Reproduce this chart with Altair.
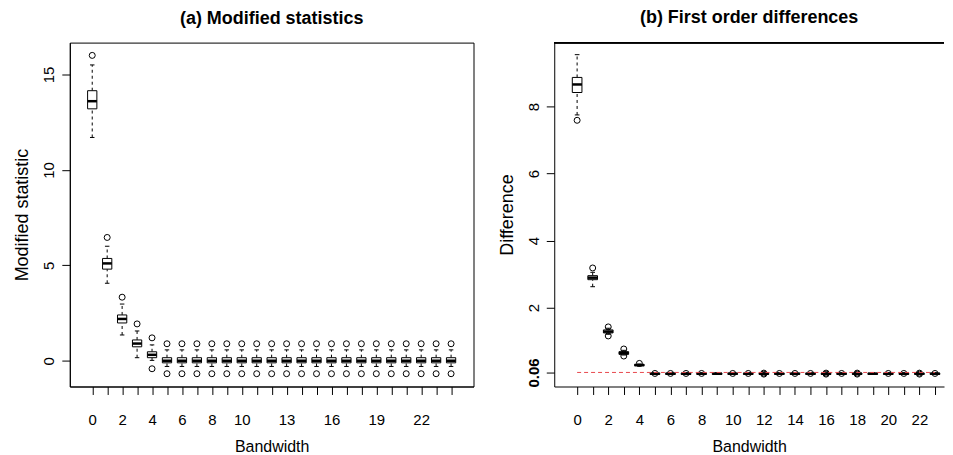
import altair as alt
import pandas as pd

FONT = "Liberation Sans"

# ---------------- Panel (a): Modified statistics ----------------
a_bw = list(range(25))
a_wlo = [11.7, 4.06, 1.35, 0.16, 0.02,
         -0.3, -0.3, -0.3, -0.3, -0.3, -0.3, -0.3, -0.3, -0.3, -0.3,
         -0.3, -0.3, -0.3, -0.3, -0.3, -0.3, -0.3, -0.3, -0.3, -0.3]
a_q1 = [13.2, 4.8, 1.98, 0.73, 0.16,
        -0.11, -0.11, -0.11, -0.11, -0.11, -0.11, -0.11, -0.11, -0.11, -0.11,
        -0.11, -0.11, -0.11, -0.11, -0.11, -0.11, -0.11, -0.11, -0.11, -0.11]
a_med = [13.6, 5.1, 2.19, 0.9, 0.31,
         0.0, 0.0, 0.0, 0.0, 0.0, 0.0, 0.0, 0.0, 0.0, 0.0,
         0.0, 0.0, 0.0, 0.0, 0.0, 0.0, 0.0, 0.0, 0.0, 0.0]
a_q3 = [14.15, 5.36, 2.4, 1.09, 0.47,
        0.16, 0.16, 0.16, 0.16, 0.16, 0.16, 0.16, 0.16, 0.16, 0.16,
        0.16, 0.16, 0.16, 0.16, 0.16, 0.16, 0.16, 0.16, 0.16, 0.16]
a_whi = [15.5, 6.0, 2.97, 1.56, 0.83,
         0.57, 0.57, 0.57, 0.57, 0.57, 0.57, 0.57, 0.57, 0.57, 0.57,
         0.57, 0.57, 0.57, 0.57, 0.57, 0.57, 0.57, 0.57, 0.57, 0.57]
a_out_hi = [16.0, 6.46, 3.33, 1.93, 1.2,
            0.89, 0.89, 0.89, 0.89, 0.89, 0.89, 0.89, 0.89, 0.89, 0.89,
            0.89, 0.89, 0.89, 0.89, 0.89, 0.89, 0.89, 0.89, 0.89, 0.89]
a_out_lo = [None, None, None, None, -0.42,
            -0.68, -0.68, -0.68, -0.68, -0.68, -0.68, -0.68, -0.68, -0.68, -0.68,
            -0.68, -0.68, -0.68, -0.68, -0.68, -0.68, -0.68, -0.68, -0.68, -0.68]
a_xlabels = [0, 2, 4, 6, 8, 10, 13, 16, 19, 22]
a_yticks = [0, 5, 10, 15]

# ---------------- Panel (b): First order differences ----------------
b_bw = list(range(24))
b_wlo = [7.75, 2.62, 1.2, 0.58, 0.25,
         0.0, 0.0, 0.0, 0.0, 0.0, 0.0, 0.0, 0.0, 0.0, 0.0,
         0.0, 0.0, 0.0, 0.0, 0.0, 0.0, 0.0, 0.0, 0.0]
b_q1 = [8.42, 2.83, 1.24, 0.6, 0.26,
        0.0, 0.0, 0.0, 0.0, 0.0, 0.0, 0.0, 0.0, 0.0, 0.0,
        0.0, 0.0, 0.0, 0.0, 0.0, 0.0, 0.0, 0.0, 0.0]
b_med = [8.66, 2.89, 1.28, 0.64, 0.28,
         0.02, 0.02, 0.02, 0.02, 0.02, 0.02, 0.02, 0.02, 0.02, 0.02,
         0.02, 0.02, 0.02, 0.02, 0.02, 0.02, 0.02, 0.02, 0.02]
b_q3 = [8.87, 2.95, 1.33, 0.68, 0.3,
        0.04, 0.04, 0.04, 0.04, 0.04, 0.04, 0.04, 0.04, 0.04, 0.04,
        0.04, 0.04, 0.04, 0.04, 0.04, 0.04, 0.04, 0.04, 0.04]
b_whi = [9.55, 3.05, 1.38, 0.72, 0.31,
         0.05, 0.05, 0.05, 0.05, 0.05, 0.05, 0.05, 0.05, 0.05, 0.05,
         0.05, 0.05, 0.05, 0.05, 0.05, 0.05, 0.05, 0.05, 0.05]
b_out_hi = [None, 3.18, 1.42, 0.76, 0.33,
            0.03, 0.03, 0.03, 0.03, None, 0.03, 0.03, 0.04, 0.03, 0.03,
            0.03, 0.04, 0.03, 0.04, None, 0.03, 0.03, 0.04, 0.03]
b_out_lo = [7.59, None, 1.15, 0.55, None,
            None, None, None, None, None, None, None, 0.01, None, None,
            None, 0.01, None, 0.01, None, None, None, 0.01, None]
b_xlabels = [0, 2, 4, 6, 8, 10, 12, 14, 16, 18, 20, 22]
b_yticks = [0.06, 2, 4, 6, 8]
b_ref = [0.06]


def boxes_df(bw, wlo, q1, med, q3, whi):
    return pd.DataFrame({"bw": bw, "wlo": wlo, "q1": q1, "med": med,
                         "q3": q3, "whi": whi})


def outliers_df(bw, hi, lo):
    rows = []
    for b, h, l in zip(bw, hi, lo):
        if h is not None:
            rows.append({"bw": b, "val": h})
        if l is not None:
            rows.append({"bw": b, "val": l})
    return pd.DataFrame(rows)


HALF = 0.31
CAP = 0.15
YTITLE_SIZE = 18


def panel(bdf, odf, xdom, ydom, width, height, yticks, ytitle, title,
          xvals, xlabels, extra=None, frame=True, bold_tick=None):
    xs = alt.Scale(domain=xdom, nice=False, zero=False)
    ys = alt.Scale(domain=ydom, nice=False, zero=False)
    label_expr = "indexof(%s, datum.value) >= 0 ? '' + datum.value : ''" % str(xlabels)
    yaxis_kwargs = dict(values=yticks, title=ytitle, grid=False, tickSize=8,
                        labelAngle=270, labelAlign="center", labelBaseline="bottom",
                        labelPadding=5, titlePadding=10, domainColor="black",
                        tickColor="black", labelColor="black", titleColor="black",
                        labelFontSize=15, titleFontSize=YTITLE_SIZE,
                        titleFontWeight="normal", labelFont=FONT, titleFont=FONT,
                        labelExpr="'' + datum.value", labelOverlap=False)
    if bold_tick is not None:
        yaxis_kwargs["labelFontWeight"] = alt.condition(
            "datum.value == %s" % bold_tick, alt.value("bold"), alt.value("normal"))
    yaxis = alt.Axis(**yaxis_kwargs)
    xaxis = alt.Axis(values=xvals, labelExpr=label_expr, title="Bandwidth",
                     grid=False, tickSize=8, labelPadding=18, titlePadding=11,
                     labelOverlap=False, domainColor="black", tickColor="black",
                     labelColor="black", titleColor="black", labelFontSize=15,
                     titleFontSize=16, titleFontWeight="normal", labelFont=FONT,
                     titleFont=FONT, labelAngle=0)

    def X(f):
        return alt.X(f, type="quantitative", scale=xs, axis=xaxis)

    def Y(f):
        return alt.Y(f, type="quantitative", scale=ys, axis=yaxis)

    base = alt.Chart(bdf).transform_calculate(
        xl="datum.bw - %f" % HALF, xr="datum.bw + %f" % HALF,
        cl="datum.bw - %f" % CAP, cr="datum.bw + %f" % CAP)
    whisk_up = base.mark_rule(color="black", strokeWidth=1, strokeDash=[3, 3]).encode(
        x=X("bw"), y=Y("q3"), y2="whi:Q")
    whisk_dn = base.mark_rule(color="black", strokeWidth=1, strokeDash=[3, 3]).encode(
        x=X("bw"), y=Y("wlo"), y2="q1:Q")
    cap_up = base.mark_rule(color="black", strokeWidth=1).encode(
        x=X("cl"), x2="cr:Q", y=Y("whi"))
    cap_dn = base.mark_rule(color="black", strokeWidth=1).encode(
        x=X("cl"), x2="cr:Q", y=Y("wlo"))
    box = base.mark_rect(fill="white", stroke="black", strokeWidth=1).encode(
        x=X("xl"), x2="xr:Q", y=Y("q1"), y2="q3:Q")
    med = base.mark_rule(color="black", strokeWidth=2.5).encode(
        x=X("xl"), x2="xr:Q", y=Y("med"))
    pts = alt.Chart(odf).mark_point(shape="circle", filled=False, color="black",
                                    size=36, strokeWidth=1, opacity=1).encode(
        x=X("bw"), y=Y("val"))
    layers = [whisk_up, whisk_dn, cap_up, cap_dn, box, med, pts]
    if extra is not None:
        for e in extra:
            layers.append(e.encode(x=X("x0"), x2="x1:Q", y=Y("y")))
    if not frame:
        layers.append(alt.Chart(bdf).mark_rule(color="black", strokeWidth=1).encode(
            x=alt.value(0), x2=alt.value(width), y=alt.value(0)))
    ch = alt.layer(*layers).properties(
        width=width, height=height,
        title=alt.TitleParams(title, fontSize=18, fontWeight="bold", font=FONT,
                              anchor="middle", color="black", offset=15),
        view=alt.ViewBackground(stroke="black" if frame else "transparent",
                                strokeWidth=1 if frame else 0))
    return ch


a_box = boxes_df(a_bw, a_wlo, a_q1, a_med, a_q3, a_whi)
a_out = outliers_df(a_bw, a_out_hi, a_out_lo)
b_box = boxes_df(b_bw, b_wlo, b_q1, b_med, b_q3, b_whi)
b_out = outliers_df(b_bw, b_out_hi, b_out_lo)

ref_df = pd.DataFrame({"x0": [b_bw[0]], "x1": [b_bw[-1]], "y": b_ref})
ref_line = alt.Chart(ref_df).mark_rule(color="#e8484d", strokeWidth=1,
                                       strokeDash=[4, 3])

left = panel(a_box, a_out, [-1.5, 25.5], [-1.35, 16.67], 405, 345, a_yticks,
             "Modified statistic", "(a) Modified statistics", a_bw, a_xlabels)
right = panel(b_box, b_out, [-1.47, 23.58], [-0.36, 9.91], 391, 345, b_yticks,
              "Difference", "(b) First order differences", b_bw, b_xlabels,
              extra=[ref_line], frame=False, bold_tick="0.06")

chart = alt.hconcat(left, right, spacing=24).properties(
    padding={"left": 5, "top": 0, "right": 0, "bottom": 0},
    background="white"
).configure(font=FONT)

chart.save("out.html", embed_options={"renderer": "svg", "actions": False})
